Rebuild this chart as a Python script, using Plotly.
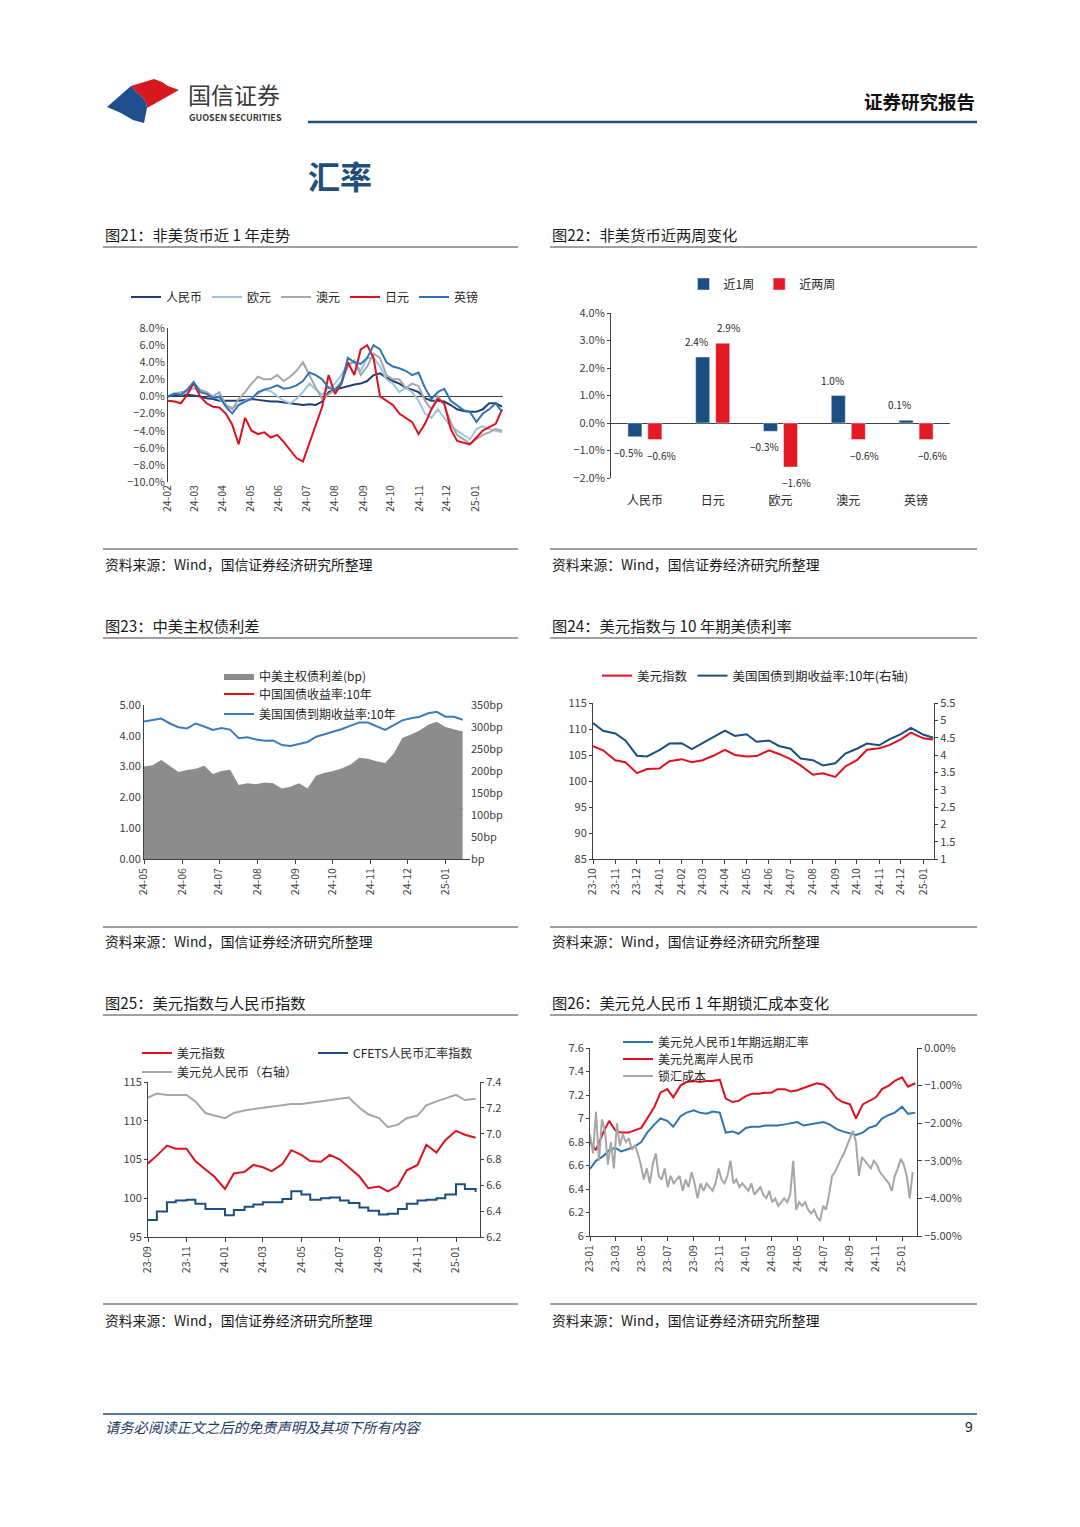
import plotly.graph_objects as go
import pandas as pd

W, H = 1080, 1527
FONT = "Noto Sans CJK SC"

# page pixel -> paper fraction (the page body adds an 8px offset)
OX, OY = 8.0, 8.0


def px(x):
    return (x - OX) / W


def py(y):
    return 1 - (y - OY) / H


# ---------------- data ----------------
# Fig 21: non-USD currencies vs USD, cumulative change (%), weekly from 2024-02-01
c21_start = "2024-02-01"
c21_cny = [0, 0.1, 0.1, 0.2, 0.1, 0.0, -0.2, -0.3, -0.5, -0.5,
           -0.5, -0.5, -0.4, -0.3, -0.4, -0.5, -0.6, -0.6, -0.7, -0.8,
           -0.9, -1.0, -0.9, -1.0, -0.6, 0.5, 0.8, 1.0, 1.2, 1.4,
           1.5, 1.8, 2.5, 2.7, 2.2, 1.8, 1.5, 1.0, 0.8, 0.5,
           -0.2, -0.5, -0.5, -0.6, -1.0, -1.5, -1.7, -1.8, -1.8, -1.5,
           -0.8, -0.8, -1.2]
c21_eur = [0, 0.4, 0.2, 0.5, 1.0, 0.6, 0.3, 0.0, -0.3, -1.0,
           -1.3, -1.0, -0.5, -0.2, 0.3, 0.8, 0.6, 0.0, -0.5, -0.8,
           -0.3, 0.5, 1.5, 0.8, 0.2, 1.0, 1.5, 2.5, 3.8, 4.0,
           3.0, 4.5, 4.5, 3.5, 2.0, 1.5, 0.5, 1.0, 0.5, -0.5,
           -2.0, -2.5, -1.5, -2.5, -3.5, -4.0, -4.5, -5.0, -3.8, -3.5,
           -3.8, -4.0, -4.2]
c21_aud = [0, 0.3, 0.5, 0.6, 1.5, 0.8, 0.5, 0.0, 0.5, -1.0,
           -1.5, -0.3, 0.5, 1.5, 2.3, 2.0, 2.0, 2.5, 1.8, 2.3,
           3.0, 4.0, 2.5, 1.0, -0.3, 0.3, 0.8, 1.8, 3.5, 4.2,
           2.5, 3.5, 5.0, 4.5, 2.5, 2.0, 2.0, 1.0, 1.5, 1.2,
           -0.5, -1.5, 0.0, -1.0, -3.0, -4.5, -5.0, -5.5, -5.0, -4.5,
           -4.2, -3.8, -4.0]
c21_jpy = [-0.5, -0.6, -0.8, 0.2, 1.6, 0.0, -0.8, -1.2, -1.3, -2.0,
           -3.3, -5.6, -2.5, -4.0, -4.4, -4.2, -4.8, -4.5, -5.3, -6.2,
           -7.2, -7.6, -5.5, -3.5, -1.2, 2.5, 0.3, 1.5, 4.0, 2.5,
           5.5, 6.0, 4.5, 0.0, -0.5, -1.0, -2.0, -2.5, -3.0, -4.4,
           -3.2, -1.5, -0.3, -0.8, -3.8, -5.2, -5.4, -5.6, -4.8, -4.0,
           -3.6, -3.2, -1.5]
c21_gbp = [0.0, 0.3, 0.2, 0.8, 1.7, 0.5, 0.3, -0.2, 0.0, -1.2,
           -2.0, -1.0, -0.6, -0.3, 0.5, 0.8, 1.0, 1.3, 0.9, 1.0,
           1.3, 1.8, 2.8, 2.5, 2.0, 1.0, 0.8, 1.5, 4.5, 4.0,
           3.8, 4.5, 6.0, 5.5, 4.0, 3.5, 3.3, 3.0, 2.5, 2.8,
           1.0, -0.3, 0.5, 0.9, -0.5, -1.0, -1.6, -1.8, -3.0, -2.0,
           -1.5, -0.8, -1.8]
c21_names = ["人民币", "欧元", "澳元", "日元", "英镑"]

# Fig 22: two-week changes (%)
c22_cats = ["人民币", "日元", "欧元", "澳元", "英镑"]
c22_week1 = [-0.5, 2.4, -0.3, 1.0, 0.1]
c22_week2 = [-0.6, 2.9, -1.6, -0.6, -0.6]

# Fig 23: China/US 10y yields (%), spread (bp), weekly from 2024-05-01
c23_start = "2024-05-01"
c23_us10y = [4.46, 4.50, 4.56, 4.40, 4.28, 4.24, 4.40, 4.30, 4.19, 4.25,
             4.20, 3.92, 3.95, 3.88, 3.84, 3.85, 3.70, 3.67, 3.73, 3.80,
             3.97, 4.05, 4.13, 4.22, 4.33, 4.43, 4.43, 4.30, 4.19, 4.35,
             4.50, 4.57, 4.62, 4.73, 4.78, 4.62, 4.62, 4.52]
c23_cn10y = [2.33, 2.33, 2.31, 2.30, 2.29, 2.27, 2.25, 2.27, 2.28, 2.27,
             2.26, 2.17, 2.14, 2.24, 2.22, 2.20, 2.18, 2.10, 2.08, 2.12,
             2.27, 2.20, 2.16, 2.15, 2.17, 2.16, 2.13, 2.11, 2.08, 2.02,
             1.95, 1.83, 1.78, 1.74, 1.62, 1.66, 1.67, 1.64]
c23_spread = [210, 213, 225, 212, 198, 202, 205, 212, 193, 200,
              203, 168, 172, 170, 174, 172, 160, 164, 172, 160,
              190, 196, 200, 206, 215, 230, 228, 222, 218, 240,
              275, 283, 292, 305, 312, 300, 295, 290]

# Fig 24: DXY and US 10y (semi-monthly from 2023-10-01)
c24_start = "2023-10-01"
c24_dxy = [106.7, 105.9, 104.0, 103.6, 101.5, 102.3, 102.4, 103.8, 104.2, 103.6,
           104.0, 104.8, 106.0, 105.0, 104.7, 104.8, 105.9, 105.2, 104.2, 103.0,
           101.2, 101.5, 100.8, 102.8, 104.0, 106.0, 106.3, 106.9, 108.0, 109.3,
           108.2, 108.0]
c24_us10y = [4.92, 4.70, 4.62, 4.42, 3.98, 3.96, 4.14, 4.33, 4.34, 4.17,
             4.34, 4.50, 4.70, 4.55, 4.60, 4.38, 4.42, 4.26, 4.18, 3.90,
             3.85, 3.70, 3.76, 4.04, 4.18, 4.33, 4.28, 4.45, 4.60, 4.78,
             4.59, 4.50]

# Fig 25: DXY, CFETS RMB index, USDCNY (semi-monthly from 2023-09-01)
c25_start = "2023-09-01"
c25_dxy = [104.5, 105.5, 106.8, 106.4, 106.4, 104.8, 103.7, 102.8, 101.2, 103.2,
           103.4, 104.3, 104.0, 103.5, 104.4, 106.2, 105.6, 104.8, 104.7, 105.6,
           105.0, 104.0, 102.8, 101.3, 101.5, 100.9, 101.6, 103.6, 104.3, 106.9,
           105.9, 107.5, 108.7, 108.2, 107.8]
c25_cfets = [97.2, 98.3, 99.5, 99.7, 99.8, 99.3, 98.6, 98.6, 97.8, 98.5,
             98.9, 99.2, 99.5, 99.5, 99.9, 100.9, 100.5, 99.8, 100.0, 100.1,
             99.7, 99.4, 98.8, 98.4, 97.9, 98.0, 98.6, 99.3, 99.7, 99.8,
             100.0, 100.5, 101.8, 101.2, 100.8]
c25_usdcny = [7.28, 7.31, 7.30, 7.30, 7.30, 7.25, 7.16, 7.14, 7.12, 7.16,
              7.18, 7.19, 7.20, 7.21, 7.22, 7.23, 7.23, 7.24, 7.25, 7.26,
              7.27, 7.28, 7.20, 7.15, 7.12, 7.05, 7.07, 7.12, 7.14, 7.22,
              7.25, 7.27, 7.30, 7.26, 7.27]

# Fig 26: 1y forward, CNH (semi-monthly from 2023-01-01), hedging cost (weekly)
c26_start = "2023-01-01"
c26_fwd = [6.57, 6.64, 6.68, 6.73, 6.75, 6.72, 6.74, 6.76, 6.80, 6.88,
           6.95, 7.00, 6.98, 6.93, 7.02, 7.05, 7.07, 7.05, 7.04, 7.06,
           7.05, 6.88, 6.89, 6.87, 6.92, 6.93, 6.93, 6.94, 6.94, 6.94,
           6.95, 6.96, 6.97, 6.94, 6.95, 6.96, 6.97, 6.95, 6.91, 6.89,
           6.87, 6.86, 6.88, 6.92, 6.94, 7.00, 7.03, 7.05, 7.10, 7.04,
           7.05]
c26_cnh = [6.80, 6.73, 6.88, 6.98, 6.90, 6.88, 6.88, 6.90, 6.92, 7.00,
           7.10, 7.22, 7.25, 7.18, 7.28, 7.31, 7.32, 7.31, 7.32, 7.32,
           7.33, 7.17, 7.14, 7.15, 7.19, 7.21, 7.21, 7.22, 7.22, 7.25,
           7.25, 7.23, 7.24, 7.26, 7.28, 7.30, 7.29, 7.25, 7.17, 7.14,
           7.12, 7.00, 7.12, 7.15, 7.18, 7.25, 7.28, 7.32, 7.35, 7.27,
           7.30]
c26_cost = [-2.3, -2.8, -1.7, -3.0, -1.9, -2.2, -3.1, -2.5, -3.2, -2.0,
            -2.6, -2.3, -2.5, -2.4, -2.7, -2.6, -2.8, -3.1, -3.5, -3.2,
            -3.6, -3.1, -2.8, -3.4, -3.5, -3.2, -3.7, -3.4, -3.6, -3.5,
            -3.4, -3.8, -3.5, -3.7, -3.3, -3.6, -4.0, -3.6, -3.8, -3.6,
            -3.7, -3.8, -3.6, -3.2, -3.5, -3.6, -3.4, -3.0, -3.6, -3.5,
            -3.7, -3.6, -3.7, -3.8, -3.6, -3.9, -3.8, -3.7, -3.9, -4.0,
            -3.8, -4.1, -4.0, -4.2, -4.1, -4.0, -4.1, -3.9, -3.0, -4.3,
            -4.1, -4.2, -4.1, -4.3, -4.4, -4.3, -4.5, -4.6, -4.2, -4.3,
            -3.9, -3.4, -3.3, -3.1, -2.95, -2.8, -2.6, -2.4, -2.2, -2.5,
            -3.4, -2.9, -3.0, -3.1, -3.2, -3.0, -3.1, -3.3, -3.4, -3.5,
            -3.6, -3.8, -3.4, -3.2, -2.95, -3.1, -3.4, -4.0, -3.3]

# ---------------- colours ----------------
NAVY = "#1f3f6e"
BLUE = "#2e75b6"
LBLUE = "#9dc3e6"
GRAY = "#a6a6a6"
RED = "#e0101e"
DARKBLUE = "#1b4f82"
AXC = "#404040"
TXT = "#262626"

fig = go.Figure()

# ---- Fig 21 ----
d21 = pd.date_range(c21_start, periods=len(c21_cny), freq="7D")
for name, vals, col in zip(c21_names, [c21_cny, c21_eur, c21_aud, c21_jpy, c21_gbp],
                           [NAVY, LBLUE, GRAY, RED, BLUE]):
    fig.add_trace(go.Scatter(x=d21, y=vals, name=name, mode="lines",
                             line=dict(color=col, width=2), xaxis="x", yaxis="y",
                             legend="legend"))

# ---- Fig 22 ----
bar_anns = []
for name, vals, col, shift in [("近1周", c22_week1, DARKBLUE, -6), ("近两周", c22_week2, "#e31a23", 6)]:
    fig.add_trace(go.Bar(x=c22_cats, y=vals, name=name, marker_color=col,
                         xaxis="x2", yaxis="y2", legend="legend2"))
    for i, (cat, v) in enumerate(zip(c22_cats, vals)):
        bar_anns.append(dict(
            x=i + (-0.15 if shift < 0 else 0.15), y=v, xref="x2", yref="y2",
            text=f"{v:.1f}%".replace("-", "−"), showarrow=False,
            xanchor="center", yanchor="bottom" if v >= 0 else "top",
            xshift=shift, yshift=6 if v >= 0 else -6,
            font=dict(family=FONT, size=10, color=TXT)))

# ---- Fig 23 ----
d23 = pd.date_range(c23_start, periods=len(c23_us10y), freq="7D")
fig.add_trace(go.Scatter(x=d23, y=c23_spread, name="中美主权债利差(bp)", mode="lines",
                         fill="tozeroy", fillcolor="#8c8c8c", line=dict(width=0, color="#8c8c8c"),
                         xaxis="x3", yaxis="y4", legend="legend3"))
fig.add_trace(go.Scatter(x=d23, y=c23_cn10y, name="中国国债收益率:10年", mode="lines",
                         line=dict(color=RED, width=2), xaxis="x3", yaxis="y3", legend="legend4"))
fig.add_trace(go.Scatter(x=d23, y=c23_us10y, name="美国国债到期收益率:10年", mode="lines",
                         line=dict(color="#3a7cc0", width=2), xaxis="x3", yaxis="y3", legend="legend5"))

# ---- Fig 24 ----
d24 = pd.date_range(c24_start, periods=len(c24_dxy), freq="SMS")
fig.add_trace(go.Scatter(x=d24, y=c24_dxy, name="美元指数", mode="lines",
                         line=dict(color=RED, width=2), xaxis="x4", yaxis="y5", legend="legend6"))
fig.add_trace(go.Scatter(x=d24, y=c24_us10y, name="美国国债到期收益率:10年(右轴)", mode="lines",
                         line=dict(color=DARKBLUE, width=2), xaxis="x4", yaxis="y6", legend="legend6"))

# ---- Fig 25 ----
d25 = pd.date_range(c25_start, periods=len(c25_dxy), freq="SMS")
fig.add_trace(go.Scatter(x=d25, y=c25_dxy, name="美元指数", mode="lines",
                         line=dict(color=RED, width=2), xaxis="x5", yaxis="y7", legend="legend7"))
fig.add_trace(go.Scatter(x=d25, y=c25_cfets, name="CFETS人民币汇率指数", mode="lines",
                         line=dict(color=DARKBLUE, width=2, shape="hv"), xaxis="x5", yaxis="y7",
                         legend="legend7"))
fig.add_trace(go.Scatter(x=d25, y=c25_usdcny, name="美元兑人民币（右轴）", mode="lines",
                         line=dict(color=GRAY, width=2), xaxis="x5", yaxis="y8", legend="legend8"))

# ---- Fig 26 ----
d26 = pd.date_range(c26_start, periods=len(c26_fwd), freq="SMS")
d26w = pd.date_range(c26_start, periods=len(c26_cost), freq="7D")
fig.add_trace(go.Scatter(x=d26, y=c26_fwd, name="美元兑人民币1年期远期汇率", mode="lines",
                         line=dict(color=BLUE, width=2), xaxis="x6", yaxis="y9", legend="legend9"))
fig.add_trace(go.Scatter(x=d26, y=c26_cnh, name="美元兑离岸人民币", mode="lines",
                         line=dict(color=RED, width=2), xaxis="x6", yaxis="y9", legend="legend10"))
fig.add_trace(go.Scatter(x=d26w, y=c26_cost, name="锁汇成本", mode="lines",
                         line=dict(color=GRAY, width=2), xaxis="x6", yaxis="y10", legend="legend11"))

# ---------------- axes ----------------
tickfont = dict(family=FONT, size=11, color=AXC)


def date_x(l, r, anchor, rng, tick0, dtick, showline=True, ticks="outside"):
    return dict(domain=[px(l), px(r)], anchor=anchor, type="date", range=rng,
                tick0=tick0, dtick=dtick, tickformat="%y-%m", tickangle=-90,
                showgrid=False, zeroline=False, showline=showline, linecolor=AXC,
                linewidth=1, ticks=ticks, ticklen=4, tickcolor=AXC,
                tickfont=dict(family=FONT, size=10.5, color=AXC),
                automargin=False)


def num_y(t, b, anchor, rng, **kw):
    d = dict(domain=[py(b), py(t)], anchor=anchor, range=rng, showgrid=False,
             zeroline=False, showline=True, linecolor=AXC, linewidth=1,
             ticks="outside", ticklen=3, tickcolor=AXC, tickfont=tickfont,
             automargin=False)
    d.update(kw)
    return d


def right_y(over, anchor, rng, **kw):
    d = dict(overlaying=over, side="right", anchor=anchor, range=rng, showgrid=False,
             zeroline=False, showline=True, linecolor=AXC, linewidth=1,
             ticks="outside", ticklen=3, tickcolor=AXC, tickfont=tickfont,
             automargin=False)
    d.update(kw)
    return d


layout_axes = dict(
    xaxis=date_x(168, 503, "y", ["2024-02-01", "2025-01-31"], "2024-02-01", "M1",
                 showline=False, ticks=""),
    yaxis=num_y(328, 482, "x", [-10, 8], dtick=2, tickformat=".1f", ticksuffix="%",
                ticks="", zeroline=True, zerolinecolor=AXC, zerolinewidth=1.2),
    xaxis2=dict(domain=[px(611), px(950)], anchor="y2", type="category",
                range=[-0.5, 4.5], showline=False, ticks="", showgrid=False,
                automargin=False, ticklabelstandoff=14,
                tickfont=dict(family=FONT, size=12, color=TXT)),
    yaxis2=num_y(313, 478, "x2", [-2, 4], dtick=1, tickformat=".1f", ticksuffix="%",
                 zeroline=True, zerolinecolor=AXC, zerolinewidth=1.2),
    xaxis3=date_x(144, 470, "y3", ["2024-05-01", "2025-01-21"], "2024-05-01", "M1"),
    yaxis3=num_y(705, 859, "x3", [0, 5], dtick=1, tickformat=".2f", ticks=""),
    yaxis4=right_y("y3", "x3", [0, 350], tickvals=[0, 50, 100, 150, 200, 250, 300, 350],
                   ticktext=["bp", "50bp", "100bp", "150bp", "200bp", "250bp", "300bp", "350bp"],
                   showline=False, ticks=""),
    xaxis4=date_x(593, 934, "y5", ["2023-10-01", "2025-01-16"], "2023-10-01", "M1"),
    yaxis5=num_y(703, 859, "x4", [85, 115], dtick=5),
    yaxis6=right_y("y5", "x4", [1, 5.5], tickvals=[1, 1.5, 2, 2.5, 3, 3.5, 4, 4.5, 5, 5.5],
                   ticktext=["1", "1.5", "2", "2.5", "3", "3.5", "4", "4.5", "5", "5.5"]),
    xaxis5=date_x(148, 480, "y7", ["2023-09-01", "2025-02-08"], "2023-09-01", "M2"),
    yaxis7=num_y(1082, 1237, "x5", [95, 115], dtick=5),
    yaxis8=right_y("y7", "x5", [6.2, 7.4], dtick=0.2, tickformat=".1f"),
    xaxis6=date_x(590, 917, "y9", ["2023-01-01", "2025-02-05"], "2023-01-01", "M2"),
    yaxis9=num_y(1048, 1236, "x6", [6, 7.6],
                 tickvals=[6, 6.2, 6.4, 6.6, 6.8, 7, 7.2, 7.4, 7.6],
                 ticktext=["6", "6.2", "6.4", "6.6", "6.8", "7", "7.2", "7.4", "7.6"]),
    yaxis10=right_y("y9", "x6", [-5, 0], dtick=1, tickformat=".2f", ticksuffix="%", ticklen=4),
)


def leg(x, y, xanchor="left", size=12, **kw):
    d = dict(x=px(x), y=py(y), xref="paper", yref="paper", xanchor=xanchor,
             yanchor="middle", orientation="h", bgcolor="rgba(0,0,0,0)",
             font=dict(family=FONT, size=size, color=TXT), tracegroupgap=0,
             itemwidth=30)
    d.update(kw)
    return d


legends = dict(
    legend=leg(126, 297),
    legend2=leg(762, 284, xanchor="center"),
    legend3=leg(219, 676),
    legend4=leg(219, 694),
    legend5=leg(219, 714),
    legend6=leg(597, 676, size=12.5),
    legend7=leg(137, 1053, entrywidth=131, entrywidthmode="pixels"),
    legend8=leg(137, 1072),
    legend9=leg(618, 1042),
    legend10=leg(618, 1059),
    legend11=leg(618, 1076),
)

# ---------------- page furniture ----------------
anns = list(bar_anns)


def text(t, x, y, size, color=TXT, xanchor="left", bold=False, family=FONT):
    if bold:
        t = "<b>" + t + "</b>"
    anns.append(dict(text=t, x=px(x), y=py(y), xref="paper", yref="paper",
                     xanchor=xanchor, yanchor="middle", showarrow=False,
                     font=dict(family=family, size=size, color=color)))


shapes = []


def hline(x0, x1, y, color=AXC, width=1):
    shapes.append(dict(type="line", xref="paper", yref="paper", x0=px(x0), x1=px(x1),
                       y0=py(y), y1=py(y), line=dict(color=color, width=width)))


def poly(points, color):
    p = "M " + " L ".join(f"{px(a):.5f},{py(b):.5f}" for a, b in points) + " Z"
    shapes.append(dict(type="path", xref="paper", yref="paper", path=p,
                       fillcolor=color, line=dict(width=0)))


# logo
poly([(131, 86), (154, 79), (162, 82), (168, 86), (179, 90), (147, 108),
      (146, 102), (141, 96), (135, 91)], "#d7191f")
poly([(107, 107), (131, 86), (135, 91), (141, 96), (146, 102), (147, 108),
      (144, 123), (133, 120), (121, 113)], "#1f4e8c")
text("国信证券", 186, 94, 23, color="#3a3a3a")
text("GUOSEN SECURITIES", 187, 117.5, 9, color="#3a3a3a", bold=True)
text("证券研究报告", 977, 101, 18.5, color="#111111", xanchor="right", bold=True)
hline(308, 977, 122, color="#1f4e79", width=2.5)
text("汇率", 306, 175, 32, color="#1f4e79", bold=True)

titles = [("图21：非美货币近 1 年走势", 103, 234), ("图22：非美货币近两周变化", 550, 234),
          ("图23：中美主权债利差", 103, 625), ("图24：美元指数与 10 年期美债利率", 550, 625),
          ("图25：美元指数与人民币指数", 103, 1002), ("图26：美元兑人民币 1 年期锁汇成本变化", 550, 1002)]
for t, x, y in titles:
    text(t, x, y, 15.3, color="#1a1a1a")
    hline(x, x + 415 if x < 300 else 977, y + 13)

src = "资料来源：Wind，国信证券经济研究所整理"
for x, yl, yt in [(103, 549, 564), (550, 549, 564), (103, 927, 941), (550, 927, 941),
                  (103, 1304, 1320), (550, 1304, 1320)]:
    hline(x, x + 415 if x < 300 else 977, yl)
    text(src, x, yt, 13.8, color="#1a1a1a")

hline(103, 977, 1414, color="#1f4e79", width=1.5)
text("<i>请务必阅读正文之后的免责声明及其项下所有内容</i>", 103, 1426, 14.3, color="#1f3864")
text("9", 975, 1426, 14, color="#111111", xanchor="right")

fig.update_layout(
    width=W, height=H, autosize=False,
    margin=dict(l=0, r=0, t=0, b=0, pad=0),
    paper_bgcolor="white", plot_bgcolor="white",
    font=dict(family=FONT, size=11, color=TXT),
    bargap=0.41, bargroupgap=0.3,
    annotations=anns, shapes=shapes,
    **layout_axes, **legends,
)

fig.write_html("out.html")
